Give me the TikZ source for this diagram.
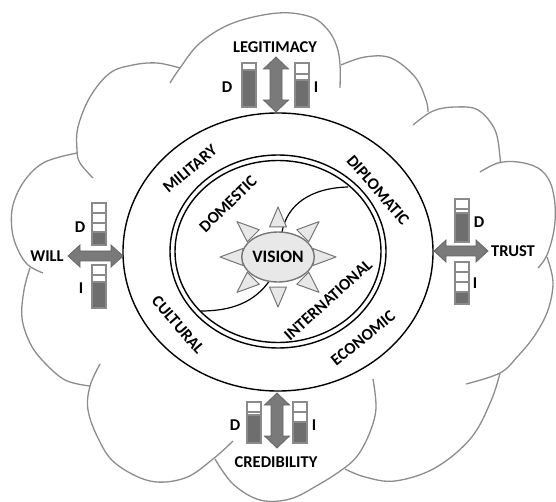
\documentclass[tikz,border=0pt]{standalone}
\usepackage{fontspec}
\setmainfont{Carlito}
\usetikzlibrary{shapes.geometric}
\definecolor{cloudgray}{HTML}{8C8C8C}
\definecolor{raygray}{HTML}{767676}
\definecolor{rayfill}{HTML}{E8E8E8}
\definecolor{arrowfill}{HTML}{7A7A7A}
\definecolor{arrowline}{HTML}{666666}
\definecolor{barfillc}{HTML}{6E6E6E}
\definecolor{barlinec}{HTML}{8A8A8A}
\newcommand{\vdarrow}[3]{%
 \draw[arrowshape] (#1,#2) -- (#1+12.5,#2+12) -- (#1+6,#2+12) -- (#1+6,#3-12) -- (#1+12.5,#3-12) -- (#1,#3) -- (#1-12.5,#3-12) -- (#1-6,#3-12) -- (#1-6,#2+12) -- (#1-12.5,#2+12) -- cycle;}
\newcommand{\hdarrow}[3]{%
 \draw[arrowshape] (#2,#1) -- (#2+12,#1-11) -- (#2+12,#1-5) -- (#3-12,#1-5) -- (#3-12,#1-11) -- (#3,#1) -- (#3-12,#1+11) -- (#3-12,#1+5) -- (#2+12,#1+5) -- (#2+12,#1+11) -- cycle;}
\newcommand{\levelbar}[5]{%
 \fill[white] (#1,#2) rectangle (#1+14,#3);
 \fill[barfillc] (#1,#4) rectangle (#1+14,#3);
 \foreach \yy in {#5} {\draw[barlinec, line width=1.2pt] (#1,\yy) -- (#1+14,\yy);}
 \draw[barframe] (#1,#2) rectangle (#1+14,#3);}
\begin{document}
\begin{tikzpicture}[x=1pt,y=-1pt,
  cloudline/.style={draw=cloudgray, line width=1.3pt},
  ring/.style={draw=black, line width=1.4pt},
  ray/.style={draw=raygray, fill=rayfill, line width=1pt, line join=round},
  lbl/.style={font=\fontsize{16.5}{18}\selectfont\bfseries, inner sep=0pt},
  arrowshape/.style={draw=arrowline, fill=arrowfill, line width=0.8pt},
  barframe/.style={draw=barlinec, line width=1.2pt}]
\useasboundingbox (0,0) rectangle (556,502);
% cloud
\draw[cloudline] plot[smooth, tension=0.6] coordinates {(170,83) (180,68) (200,43) (233,23) (278,13) (311,17) (328,30) (337,47) (340,65) (340,88)};
\draw[cloudline] plot[smooth, tension=0.6] coordinates {(341,65) (365,57) (391,58) (415,77) (426,100) (428,112)};
\draw[cloudline] plot[smooth, tension=0.6] coordinates {(413,125) (433,111) (455,107) (478,110) (495,130) (500,157) (500,163)};
\draw[cloudline] plot[smooth, tension=0.6] coordinates {(480,172) (498,163) (518,162) (538,168) (550,182) (555,205) (554,230) (547,255) (538,268)};
\draw[cloudline] plot[smooth, tension=0.6] coordinates {(547,257) (553,282) (548,310) (535,335) (518,356) (500,373) (466,384)};
\draw[cloudline] plot[smooth, tension=0.6] coordinates {(500,373) (491,401) (471,438) (435,468) (395,481) (365,477) (345,469)};
\draw[cloudline] plot[smooth, tension=0.6] coordinates {(215,459) (233,484) (260,500) (290,499) (318,485) (343,469) (358,455) (370,432) (376,408) (373,379)};
\draw[cloudline] plot[smooth, tension=0.6] coordinates {(100,364) (90,386) (88,410) (98,438) (115,463) (150,481) (185,478) (213,459) (233,441)};
\draw[cloudline] plot[smooth, tension=0.6] coordinates {(30,268) (24,290) (22,318) (30,343) (43,361) (65,380) (90,386)};
\draw[cloudline] plot[smooth, tension=0.6] coordinates {(77,153) (45,162) (25,180) (13,205) (12,230) (18,250) (28,265) (43,273)};
\draw[cloudline] plot[smooth, tension=0.6] coordinates {(180,68) (157,63) (133,65) (110,73) (90,97) (78,127) (77,150) (80,163) (93,178)};
% rings
\node[ellipse, ring, fill=white, minimum width=310pt, minimum height=278pt, inner sep=0pt] (outer) at (278,252) {};
\node[ellipse, ring, minimum width=216pt, minimum height=193pt, inner sep=0pt] (innerA) at (278,251.5) {};
\node[ellipse, ring, minimum width=206pt, minimum height=182pt, inner sep=0pt] (innerB) at (278,251.5) {};
% dividing curve
\coordinate (cA) at (348,187);
\coordinate (cB) at (282,232);
\coordinate (cC) at (270,280);
\coordinate (cD) at (201,311);
\draw[line width=1.2pt] (cA) .. controls (310,188) and (287,205) .. (cB) -- (cC) .. controls (255,302) and (232,311) .. (cD);
% sun rays
\foreach \a in {0,45,...,315} {
  \draw[ray] ({278+58*cos(\a)},{257-50*sin(\a)}) -- ({278+35*cos(\a)+8.5*sin(\a)},{257-30*sin(\a)+8.5*cos(\a)}) -- ({278+35*cos(\a)-8.5*sin(\a)},{257-30*sin(\a)-8.5*cos(\a)}) -- cycle;
}
\node[ellipse, draw=raygray, fill=rayfill, line width=1.4pt, minimum width=60pt, minimum height=50pt, inner sep=0pt, font=\fontsize{17.5}{19}\selectfont\bfseries] (vision) at (278,257) {VISION};
% ring labels
\node[lbl, rotate=40] (military) at (190,169) {MILITARY};
\node[lbl, rotate=-49] (diplomatic) at (378,190) {DIPLOMATIC};
\node[lbl, rotate=-49] (cultural) at (178,325) {CULTURAL};
\node[lbl, rotate=39] (economic) at (363,338) {ECONOMIC};
\node[lbl, rotate=44] (domestic) at (228,204) {DOMESTIC};
\node[lbl, rotate=42] (international) at (328,300) {INTERNATIONAL};
% outer labels
\node[lbl] (legit) at (275,47) {LEGITIMACY};
\node[lbl] (will) at (47,256) {WILL};
\node[lbl] (trust) at (513,251) {TRUST};
\node[lbl] (cred) at (276,462) {CREDIBILITY};
\node[lbl] (legD) at (227,87) {D};
\node[lbl] (legI) at (316,87) {I};
\node[lbl] (willD) at (80,227) {D};
\node[lbl] (willI) at (81,288) {I};
\node[lbl] (trustD) at (479,222) {D};
\node[lbl] (trustI) at (475,283) {I};
\node[lbl] (credD) at (235,425) {D};
\node[lbl] (credI) at (314,425) {I};
% arrows
\vdarrow{276}{57}{112}
\vdarrow{277}{393}{448}
\hdarrow{256}{68}{123}
\hdarrow{251}{434}{488}
% level bars
\levelbar{242}{63}{107}{70}{70}
\levelbar{295}{63}{107}{80}{74,80}
\levelbar{92}{203}{245}{232}{213,223,232}
\levelbar{92}{265}{308}{282}{275,282}
\levelbar{455}{199}{242}{213}{209,213}
\levelbar{455}{262}{304}{292}{272,282,292}
\levelbar{247}{402}{443}{415}{412,415}
\levelbar{293}{402}{443}{422}{412,422}
\end{tikzpicture}
\end{document}
